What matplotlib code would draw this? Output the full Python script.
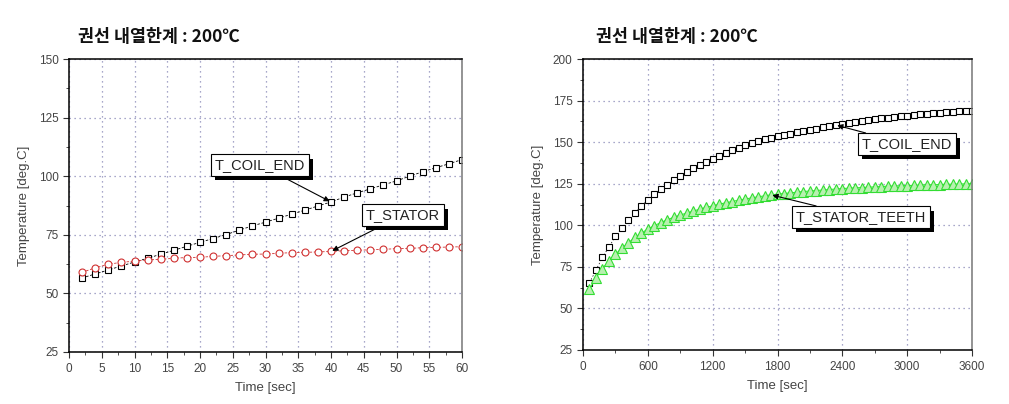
import matplotlib
matplotlib.use('Agg')
import matplotlib.pyplot as plt
import matplotlib.patheffects as pe
from matplotlib.ticker import MultipleLocator, AutoMinorLocator

plt.rcParams['font.family'] = ['Liberation Sans', 'DejaVu Sans']

# left chart: short run, 0-60 s
t_short = [2, 4, 6, 8, 10, 12, 14, 16, 18, 20, 22, 24, 26, 28, 30,
           32, 34, 36, 38, 40, 42, 44, 46, 48, 50, 52, 54, 56, 58, 60]
coil_short = [56.6, 58.3, 60.0, 61.7, 63.4, 65.0, 66.7, 68.4, 70.1, 71.8,
              73.4, 75.1, 77.0, 78.8, 80.4, 82.1, 83.8, 85.5, 87.3, 89.0,
              91.1, 92.9, 94.6, 96.3, 98.0, 100.0, 101.9, 103.6, 105.3, 107.1]
stator_short = [59.0, 60.9, 62.4, 63.3, 63.7, 64.3, 64.5, 65.0, 65.3, 65.4,
                65.8, 66.1, 66.4, 66.7, 66.8, 67.1, 67.4, 67.5, 67.7, 67.9,
                68.2, 68.4, 68.6, 68.8, 69.1, 69.2, 69.5, 69.6, 69.8, 69.9]

# right chart: 1 hour run, sampled every 60 s
t_long = list(range(60, 3601, 60))
coil_long = [65.5, 73.0, 80.8, 86.9, 93.3, 98.4, 103.0, 107.3, 111.7, 115.1,
             118.7, 121.6, 124.4, 127.2, 129.8, 132.0, 134.3, 136.5, 138.3, 140.1,
             141.9, 143.5, 145.0, 146.4, 148.0, 149.2, 150.6, 151.8, 152.6, 153.4,
             154.2, 155.0, 155.8, 156.6, 157.4, 158.2, 158.9, 159.6, 160.3, 161.0,
             161.6, 162.2, 162.8, 163.3, 163.8, 164.3, 164.8, 165.2, 165.6, 166.0,
             166.4, 166.8, 167.1, 167.4, 167.7, 168.0, 168.3, 168.5, 168.7, 169.0]
teeth_long = [61.5, 68.5, 74.0, 78.4, 82.5, 86.3, 89.5, 92.7, 95.2, 97.8,
              99.8, 101.6, 103.4, 104.8, 106.2, 107.3, 108.5, 109.7, 110.7, 111.7,
              112.7, 113.5, 114.3, 115.1, 115.7, 116.5, 117.1, 117.7, 118.3, 118.7,
              119.1, 119.5, 119.9, 120.3, 120.6, 120.9, 121.2, 121.5, 121.8, 122.1,
              122.3, 122.5, 122.7, 122.9, 123.1, 123.3, 123.5, 123.6, 123.8, 123.9,
              124.0, 124.2, 124.3, 124.4, 124.5, 124.6, 124.7, 124.8, 124.9, 125.0]

title = '권선 내열한계 : 200℃'
W, H = 1009, 404

fig = plt.figure(figsize=(W / 100, H / 100), dpi=100)
ax1 = fig.add_axes([69 / W, 1 - 352 / H, (462 - 69) / W, (352 - 59) / H])
ax2 = fig.add_axes([583 / W, 1 - 350 / H, (972 - 583) / W, (350 - 59) / H])

grid_col = '#8a8ab8'


def style(ax, xmax, xstep, ymax):
    ax.set_xlim(0, xmax)
    ax.set_ylim(25, ymax)
    ax.xaxis.set_major_locator(MultipleLocator(xstep))
    ax.yaxis.set_major_locator(MultipleLocator(25))
    ax.xaxis.set_minor_locator(AutoMinorLocator(2))
    ax.yaxis.set_minor_locator(AutoMinorLocator(2))
    ax.tick_params(which='both', direction='out', colors='#333333',
                   labelsize=8.5, labelcolor='#444444')
    ax.tick_params(which='major', length=4)
    ax.tick_params(which='minor', length=2.5)
    ax.tick_params(axis='x', pad=4)
    ax.grid(True, which='major', linestyle=(0, (1, 3)), color=grid_col, linewidth=0.9)
    ax.set_axisbelow(True)
    for s in ['left', 'bottom', 'top']:
        ax.spines[s].set_color('black')
        ax.spines[s].set_linewidth(1.1)
    ax.spines['right'].set_color('#777777')
    ax.spines['right'].set_linewidth(1.1)
    ax.set_xlabel('Time [sec]', fontsize=9.5, color='#444444', labelpad=5)
    ax.set_ylabel('Temperature [deg.C]', fontsize=9.5, color='#444444', labelpad=6)


def label(ax, text, xy, box_px):
    a = ax.annotate(text, xy=xy, xycoords='data',
                    xytext=(box_px[0], H - box_px[1]), textcoords='figure pixels',
                    ha='center', va='center', fontsize=10.5, color='#222222',
                    bbox=dict(boxstyle='square,pad=0.25', fc='white', ec='black', lw=0.8),
                    arrowprops=dict(arrowstyle='-|>', color='black', lw=0.8,
                                    mutation_scale=8, shrinkA=0, shrinkB=1))
    a.get_bbox_patch().set_path_effects([
        pe.SimplePatchShadow(offset=(3, -3), shadow_rgbFace='black', alpha=1.0),
        pe.Normal()])


# left chart
style(ax1, 60, 5, 150)
ax1.plot(t_short, coil_short, linestyle=(0, (3, 2)), color='black', lw=0.6,
         marker='s', ms=4.5, mfc='white', mec='black', mew=0.8)
ax1.plot(t_short, stator_short, linestyle=(0, (3, 2)), color='#d03030', lw=0.6,
         marker='o', ms=5, mfc='white', mec='#d03030', mew=0.8)
label(ax1, 'T_COIL_END', (40, 89.0), (260, 165))
label(ax1, 'T_STATOR', (40, 67.9), (403, 215))

# right chart
style(ax2, 3600, 600, 200)
ax2.plot(t_long, coil_long, linestyle=(0, (2, 3)), color='black', lw=0.5,
         marker='s', ms=4.5, mfc='white', mec='black', mew=0.8)
ax2.plot(t_long, teeth_long, linestyle='-', color='#33ee33', lw=0.8,
         marker='^', ms=6.5, mfc='#b8f0b0', mec='#33dd33', mew=0.8)
label(ax2, 'T_COIL_END', (2340, 160.3), (907, 144))
label(ax2, 'T_STATOR_TEETH', (1740, 118.3), (861, 217))

for x0 in (78, 596):
    fig.text(x0 / W, 1 - 37 / H, title, fontsize=12.5, fontweight='bold',
             family=['Noto Sans CJK KR', 'DejaVu Sans'], va='center', ha='left',
             color='#111111')

fig.savefig('out.png', dpi=100)
